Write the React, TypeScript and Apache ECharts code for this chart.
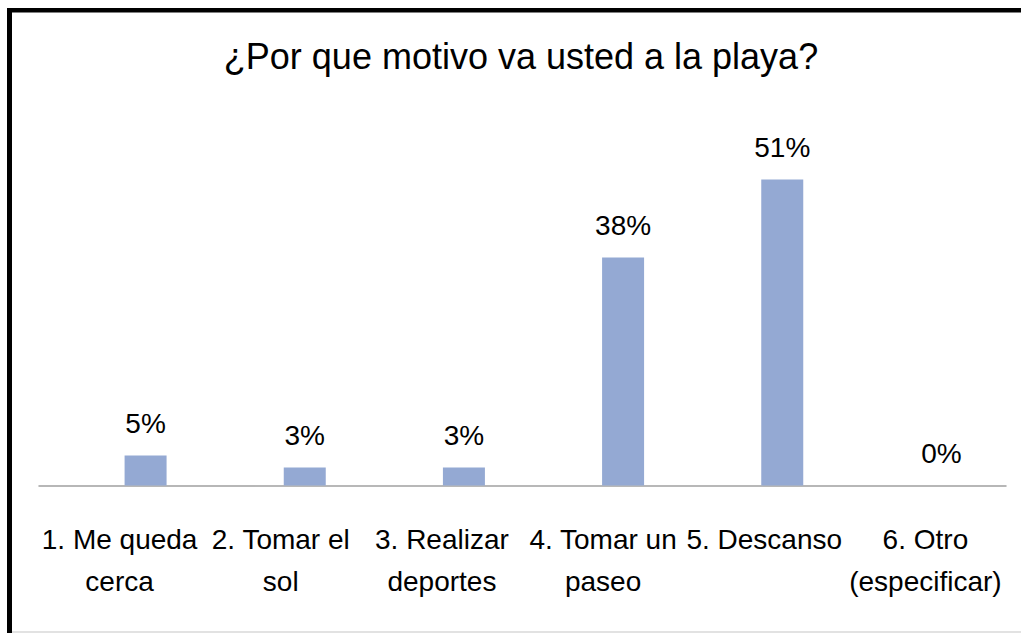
import React, { useEffect, useRef } from "react";
import * as echarts from "echarts";

const titleText = "¿Por que motivo va usted a la playa?";
const categories = [
  "1. Me queda\ncerca",
  "2. Tomar el\nsol",
  "3. Realizar\ndeportes",
  "4. Tomar un\npaseo",
  "5. Descanso",
  "6. Otro\n(especificar)",
];
const values = [5, 3, 3, 38, 51, 0];

const sans = "'Liberation Sans', Arial, sans-serif";

export default function App() {
  const ref = useRef<HTMLDivElement>(null);
  useEffect(() => {
    document.body.style.margin = "0";
    const chart = echarts.init(ref.current!, null, { renderer: "svg" });
    chart.setOption({
      animation: false,
      backgroundColor: "#ffffff",
      title: {
        text: titleText,
        left: 516,
        textAlign: "center",
        top: 33,
        textStyle: { fontFamily: sans, fontSize: 36, fontWeight: "normal", color: "#000" },
      },
      grid: [
        { left: 39, width: 967, top: 125.5, bottom: 147.5 },
        { left: 66, width: 964, top: 125.5, bottom: 147.5 },
      ],
      xAxis: [
        {
          type: "category",
          gridIndex: 0,
          data: categories,
          axisLine: { show: true, lineStyle: { color: "#a0a0a0", width: 1.5 } },
          axisTick: { show: false },
          axisLabel: {
            interval: 0,
            margin: 33,
            fontFamily: sans,
            fontSize: 28,
            lineHeight: 42,
            color: "#000",
            align: "center",
          },
        },
        {
          type: "category",
          gridIndex: 1,
          data: categories,
          show: false,
        },
      ],
      yAxis: [
        { type: "value", gridIndex: 0, min: 0, max: 60, show: false },
        { type: "value", gridIndex: 1, min: 0, max: 60, show: false },
      ],
      series: [
        {
          type: "bar",
          xAxisIndex: 1,
          yAxisIndex: 1,
          data: values,
          barWidth: 42,
          itemStyle: { color: "#94a9d3" },
          label: {
            show: true,
            position: "top",
            distance: 18,
            formatter: "{c}%",
            fontFamily: sans,
            fontSize: 28,
            color: "#000",
          },
        },
      ],
      graphic: [
        { type: "rect", shape: { x: 7, y: 8, width: 1014, height: 4.5 }, style: { fill: "#000" } },
        { type: "rect", shape: { x: 7, y: 8, width: 5, height: 625 }, style: { fill: "#000" } },
        { type: "line", shape: { x1: 12, y1: 632, x2: 1021, y2: 632 }, style: { stroke: "#d8d8d8", lineWidth: 1.5 } },
      ],
    });
    return () => chart.dispose();
  }, []);
  return <div ref={ref} style={{ width: 1021, height: 633 }} />;
}
